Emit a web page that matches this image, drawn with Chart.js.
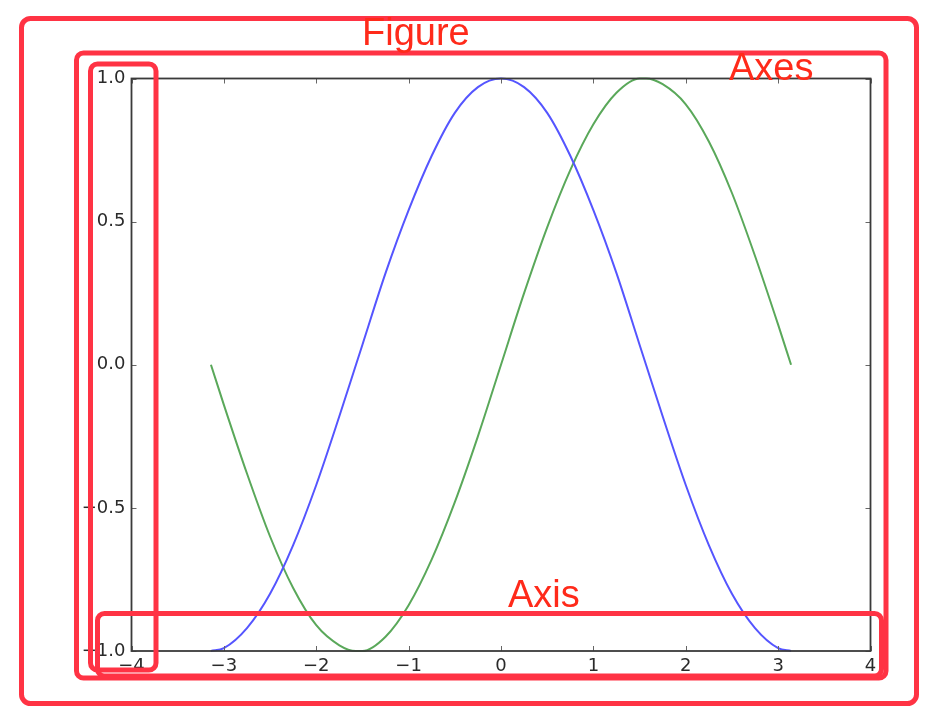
<!DOCTYPE html>
<html>
<head>
<meta charset="utf-8">
<script src="https://cdn.jsdelivr.net/npm/chart.js@4.4.0/dist/chart.umd.min.js"></script>
<style>
  html, body { margin: 0; padding: 0; background: #fff; }
  canvas { display: block; }
</style>
</head>
<body>
<canvas id="plot" width="942" height="728"></canvas>
<script>
'use strict';
//=================Data===================//
// points
var xValues = [-3.14, -3.0, -2.75, -2.5, -2.25, -2.0, -1.75, -1.57, -1.5, -1.25, -1.0, -0.75, -0.5, -0.25, 0,
  0.25, 0.5, 0.75, 1.0, 1.25, 1.5, 1.57, 1.75, 2.0, 2.25, 2.5, 2.75, 3.0, 3.14];
var blueValues = [-1.00, -0.99, -0.92, -0.80, -0.63, -0.42, -0.18, 0.00, 0.07, 0.32, 0.54, 0.73, 0.88, 0.97, 1.00,
  0.97, 0.88, 0.73, 0.54, 0.32, 0.07, 0.00, -0.18, -0.42, -0.63, -0.80, -0.92, -0.99, -1.00];
var greenValues = [0.00, -0.14, -0.38, -0.60, -0.78, -0.91, -0.98, -1.00, -1.00, -0.95, -0.84, -0.68, -0.48, -0.25, 0.00,
  0.25, 0.48, 0.68, 0.84, 0.95, 1.00, 1.00, 0.98, 0.91, 0.78, 0.60, 0.38, 0.14, 0.00];

var xTickValues = [-4, -3, -2, -1, 0, 1, 2, 3, 4];
var xTickLabels = ['\u22124', '\u22123', '\u22122', '\u22121', '0', '1', '2', '3', '4'];
var yTickValues = [-1, -0.5, 0, 0.5, 1];
var yTickLabels = ['\u22121.0', '\u22120.5', '0.0', '0.5', '1.0'];

var boxLabels = ['Figure', 'Axes', 'Axis'];

//=================Helpers=================//
function toPoints(xs, ys){
  var pts = [];
  for (var i = 0; i < xs.length; i++){
    pts.push({x: xs[i], y: ys[i]});
  }
  return pts;
}

function roundBox(ctx, x1, y1, x2, y2, r){
  ctx.beginPath();
  ctx.moveTo(x1 + r, y1);
  ctx.lineTo(x2 - r, y1);
  ctx.arcTo(x2, y1, x2, y1 + r, r);
  ctx.lineTo(x2, y2 - r);
  ctx.arcTo(x2, y2, x2 - r, y2, r);
  ctx.lineTo(x1 + r, y2);
  ctx.arcTo(x1, y2, x1, y2 - r, r);
  ctx.lineTo(x1, y1 + r);
  ctx.arcTo(x1, y1, x1 + r, y1, r);
  ctx.closePath();
  ctx.stroke();
}

// frame round the plot area plus inward ticks on all four sides
var frameAndTicks = {
  id: 'frameAndTicks',
  afterDatasetsDraw: function(chart){
    var ctx = chart.ctx;
    var a = chart.chartArea;
    var xs = chart.scales.x;
    var ys = chart.scales.y;
    ctx.save();
    ctx.strokeStyle = '#666';
    ctx.lineWidth = 1;
    ctx.beginPath();
    xTickValues.forEach(function(v){
      var px = Math.round(xs.getPixelForValue(v)) + 0.5;
      ctx.moveTo(px, a.bottom); ctx.lineTo(px, a.bottom - 5);
      ctx.moveTo(px, a.top); ctx.lineTo(px, a.top + 5);
    });
    yTickValues.forEach(function(v){
      var py = Math.round(ys.getPixelForValue(v)) + 0.5;
      ctx.moveTo(a.left, py); ctx.lineTo(a.left + 5, py);
      ctx.moveTo(a.right, py); ctx.lineTo(a.right - 5, py);
    });
    ctx.stroke();
    ctx.strokeStyle = '#3a3a3a';
    ctx.lineWidth = 1.8;
    ctx.strokeRect(a.left, a.top, a.right - a.left, a.bottom - a.top);
    ctx.restore();
  }
};

// red annotation boxes drawn over the whole figure
var redBoxes = {
  id: 'redBoxes',
  afterDraw: function(chart){
    var ctx = chart.ctx;
    ctx.save();
    ctx.strokeStyle = '#ff3344';
    ctx.lineWidth = 5;
    roundBox(ctx, 21.5, 18.5, 916.5, 703.5, 9);   // figure
    roundBox(ctx, 76.5, 53, 886, 678, 7);         // axes
    roundBox(ctx, 90.5, 64, 156, 670, 7);         // y axis
    roundBox(ctx, 97.5, 613.5, 881.5, 676, 7);    // x axis
    ctx.fillStyle = '#ff2a1a';
    ctx.font = '38px "Liberation Sans", Arial, sans-serif';
    ctx.textBaseline = 'alphabetic';
    ctx.textAlign = 'left';
    ctx.fillText(boxLabels[0], 362, 45);
    ctx.fillText(boxLabels[1], 729, 80);
    ctx.fillText(boxLabels[2], 508, 607);
    ctx.restore();
  }
};

//=================Chart===================//
var ctx = document.getElementById('plot').getContext('2d');
var plot = new Chart(ctx, {
  type: 'line',
  data: {
    datasets: [{
      label: 'blue',
      data: toPoints(xValues, blueValues),
      borderColor: 'rgb(85, 85, 255)',
      borderWidth: 2,
      pointRadius: 0,
      fill: false,
      cubicInterpolationMode: 'monotone',
      clip: false
    }, {
      label: 'green',
      data: toPoints(xValues, greenValues),
      borderColor: 'rgb(90, 168, 90)',
      borderWidth: 2,
      pointRadius: 0,
      fill: false,
      cubicInterpolationMode: 'monotone',
      clip: false
    }]
  },
  options: {
    responsive: false,
    animation: false,
    events: [],
    layout: { padding: { left: 81.5, top: 78.5, right: 71.5, bottom: 47 } },
    plugins: {
      legend: { display: false },
      tooltip: { enabled: false }
    },
    scales: {
      x: {
        type: 'linear',
        min: -4,
        max: 4,
        grid: { display: false, drawTicks: false },
        border: { display: false },
        afterBuildTicks: function(scale){
          scale.ticks = xTickValues.map(function(v){ return {value: v}; });
        },
        afterFit: function(scale){ scale.height = 30; },
        ticks: {
          autoSkip: false,
          maxRotation: 0,
          padding: 5,
          color: '#2a2a2a',
          font: { family: '"DejaVu Sans", sans-serif', size: 18 },
          callback: function(value){
            return xTickLabels[xTickValues.indexOf(value)];
          }
        }
      },
      y: {
        type: 'linear',
        min: -1,
        max: 1,
        grid: { display: false, drawTicks: false },
        border: { display: false },
        afterBuildTicks: function(scale){
          scale.ticks = yTickValues.map(function(v){ return {value: v}; });
        },
        afterFit: function(scale){ scale.width = 50; },
        ticks: {
          autoSkip: false,
          padding: 6,
          color: '#2a2a2a',
          font: { family: '"DejaVu Sans", sans-serif', size: 18 },
          callback: function(value){
            return yTickLabels[yTickValues.indexOf(value)];
          }
        }
      }
    }
  },
  plugins: [frameAndTicks, redBoxes]
});
</script>
</body>
</html>
